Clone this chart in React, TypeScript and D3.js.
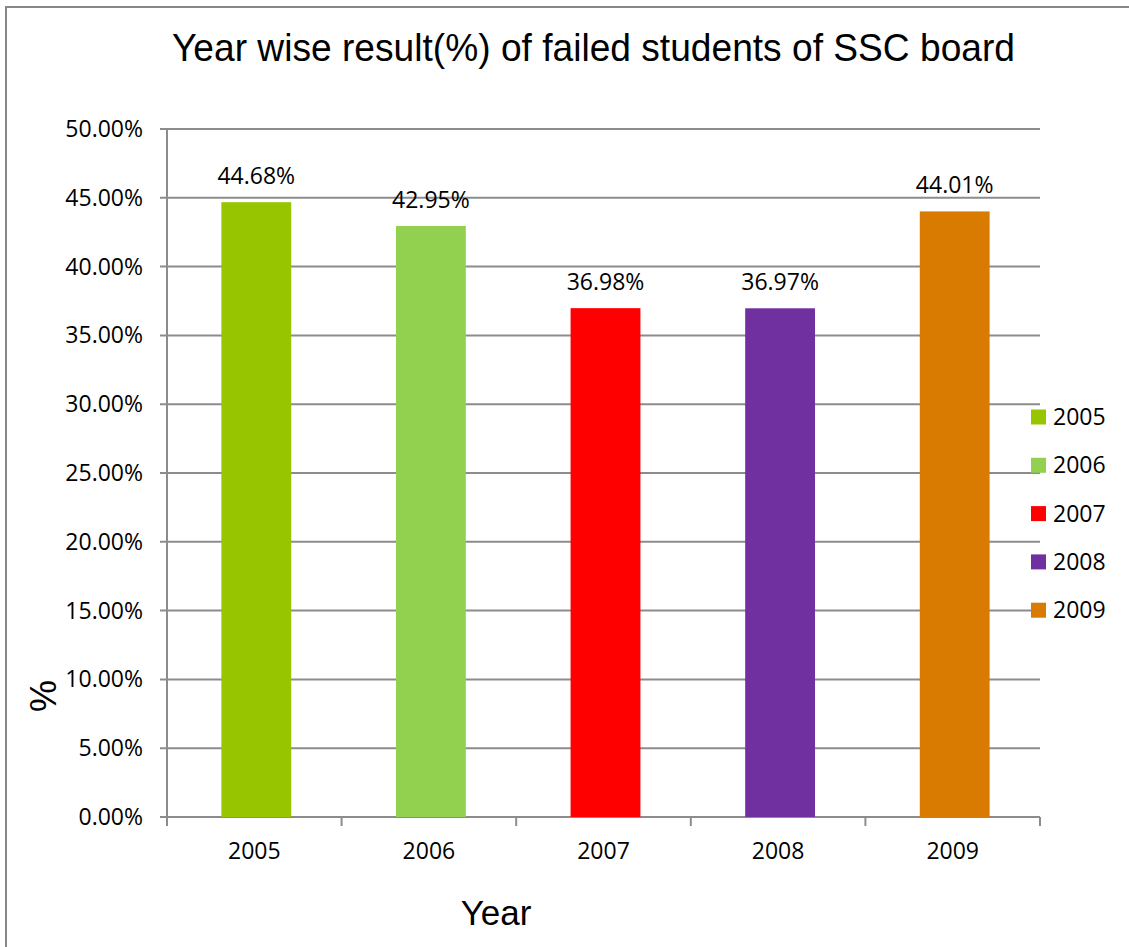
import React from "react";
import * as d3 from "d3";

const categories = ["2005", "2006", "2007", "2008", "2009"];
const values = [44.68, 42.95, 36.98, 36.97, 44.01];
const colors = ["#97C500", "#92D050", "#FF0000", "#7030A0", "#D97B00"];
const yTicks = [0, 5, 10, 15, 20, 25, 30, 35, 40, 45, 50];
const title = "Year wise result(%) of failed students of SSC board";

export default function App() {
  const W = 1129, H = 947;
  const left = 167, right = 1040, top = 129, bottom = 817;
  const x = d3.scaleBand<string>().domain(categories).range([left + 2, right + 2]).paddingInner(0.6).paddingOuter(0.3);
  const xb = d3.scaleBand<string>().domain(categories).range([left, right]);
  const y = d3.scaleLinear().domain([0, 50]).range([bottom, top]);
  const grid = "#8C8C8C";
  const small = "'Open Sans', sans-serif";
  const big = "'Liberation Sans', Arial, sans-serif";
  return (
    <svg width={W} height={H} style={{ position: "absolute", left: 0, top: 0, background: "#fff" }}>
      <rect x={6} y={7} width={W + 20} height={H + 20} fill="#fff" stroke="#888" strokeWidth={2} />
      <text x={172} y={61} textLength={843} lengthAdjust="spacingAndGlyphs" fontFamily={big} fontSize={39} fill="#000">{title}</text>
      {yTicks.map((t) => (
        <g key={t}>
          <line x1={160} x2={right} y1={y(t)} y2={y(t)} stroke={grid} strokeWidth={2} />
          <text x={143} y={y(t) + 8} textAnchor="end" fontFamily={small} fontSize={23} fill="#000">{t.toFixed(2)}%</text>
        </g>
      ))}
      <line x1={left} x2={left} y1={top} y2={bottom} stroke={grid} strokeWidth={2} />
      {[...categories.map((c) => xb(c)!), right].map((px, i) => (
        <line key={i} x1={px} x2={px} y1={bottom} y2={bottom + 9} stroke={grid} strokeWidth={2} />
      ))}
      {categories.map((c, i) => (
        <g key={c}>
          <rect x={x(c)} y={y(values[i])} width={x.bandwidth()} height={bottom - y(values[i])} fill={colors[i]} />
          <text x={x(c)! + x.bandwidth() / 2} y={y(values[i]) - 18} textAnchor="middle" fontFamily={small} fontSize={23} fill="#000">{values[i].toFixed(2)}%</text>
          <text x={xb(c)! + xb.bandwidth() / 2} y={859} textAnchor="middle" fontFamily={small} fontSize={23} fill="#000">{c}</text>
        </g>
      ))}
      {categories.map((c, i) => (
        <g key={"l" + c}>
          <rect x={1031} y={417 + i * 48.3 - 7.5} width={15} height={15} fill={colors[i]} />
          <text x={1053} y={417 + i * 48.3 + 8} fontFamily={small} fontSize={23} fill="#000">{c}</text>
        </g>
      ))}
      <text x={496} y={925} textAnchor="middle" fontFamily={big} fontSize={35} fill="#000">Year</text>
      <text transform={`translate(56,696) rotate(-90)`} textAnchor="middle" fontFamily={big} fontSize={36} fill="#000">%</text>
    </svg>
  );
}
